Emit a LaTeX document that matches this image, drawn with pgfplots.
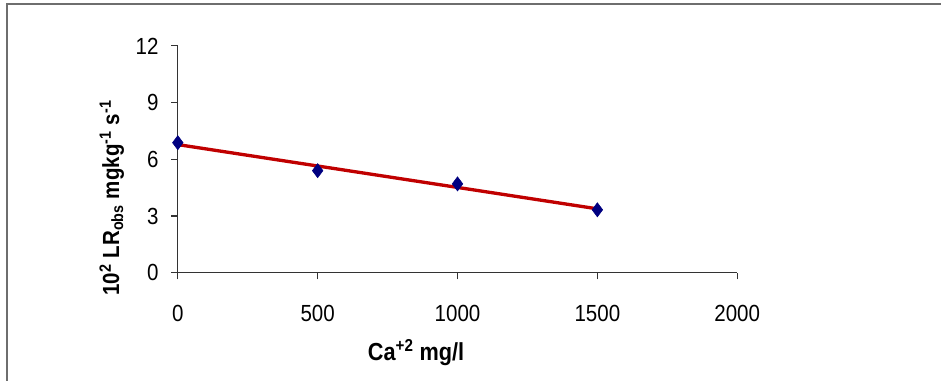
\documentclass[border=0pt]{standalone}
\usepackage{fontspec}
\setmainfont{Liberation Sans}
\newfontfamily\narrowfont[FakeStretch=0.88]{Liberation Sans}
\usepackage{pgfplots}
\pgfplotsset{compat=1.18}
\definecolor{linered}{RGB}{192,0,0}
\definecolor{marknavy}{RGB}{0,0,128}
\definecolor{framegray}{RGB}{110,110,110}
\begin{document}
\begin{tikzpicture}
\path (0pt,0pt) rectangle (706.5pt,285.75pt);
\draw[framegray, line width=1.5pt] (5.6pt,0pt) -- (5.6pt,282.4pt) -- (706.5pt,282.4pt);
\begin{axis}[
  at={(133.5pt,81pt)}, anchor=south west,
  scale only axis, width=420pt, height=170.25pt,
  xmin=0, xmax=2000, ymin=0, ymax=12,
  axis lines=left, axis line style={-, black!80, line width=0.8pt},
  xtick={0,500,1000,1500,2000}, ytick={0,3,6,9,12},
  tick style={black!80, line width=0.8pt},
  xtick align=outside, ytick align=outside,
  major tick length=5pt,
  tick label style={font=\narrowfont\fontsize{17.5}{20}\selectfont},
  /pgf/number format/assume math mode=true,
  /pgf/number format/1000 sep={},
  xticklabel style={yshift=-16pt},
  yticklabel style={xshift=-6pt},
  xlabel={\textbf{Ca\textsuperscript{+2} mg/l}},
  ylabel={\textbf{10\textsuperscript{2} LR\textsubscript{obs} mgkg\textsuperscript{-1} s\textsuperscript{-1}}},
  xlabel style={font=\narrowfont\fontsize{18.5}{20}\selectfont, at={(axis description cs:0.426,-0.352)}, anchor=center},
  ylabel style={font=\narrowfont\fontsize{17.5}{20}\selectfont, at={(axis description cs:-0.118,0.33)}, anchor=center, rotate=0},
  clip=false,
]
\addplot[linered, line width=2.5pt] coordinates {(0,6.78) (1500,3.38)};
\addplot[only marks, mark=diamond*, mark size=5.3pt, marknavy, mark options={fill=marknavy, draw=marknavy}] coordinates {
(0,6.88) (500,5.40) (1000,4.70) (1500,3.33)};
\end{axis}
\end{tikzpicture}
\end{document}
